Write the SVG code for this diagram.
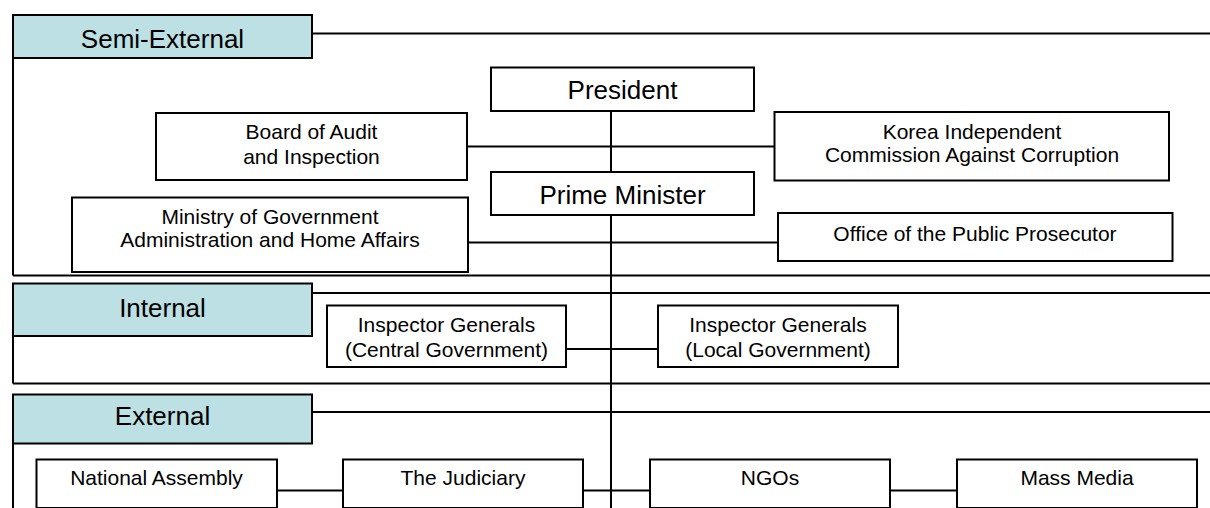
<svg xmlns="http://www.w3.org/2000/svg" width="1210" height="508" viewBox="0 0 1210 508">
<style>
.hdr{fill:#BCE0E3;stroke:#000;stroke-width:2}
.box{fill:#fff;stroke:#000;stroke-width:2}
.ln{stroke:#000;stroke-width:2;fill:none}
.big{font-family:"Liberation Sans",Arial,sans-serif;font-size:26px;fill:#000;text-anchor:middle}
.sm{font-family:"Liberation Sans",Arial,sans-serif;font-size:21px;fill:#000;text-anchor:middle}
</style>
<rect width="1210" height="508" fill="#fff"/>
<g id="sections">
<g id="semi-external">
<path class="ln" d="M312,33.5 H1210 M13,58 V275.5 M13,275.5 H1210"/>
<rect class="hdr" x="13" y="15" width="299" height="43"/>
<text class="big" x="162.5" y="47.5">Semi-External</text>
</g>
<g id="internal">
<path class="ln" d="M312,293 H1210 M13,336 V383.5 M13,383.5 H1210"/>
<rect class="hdr" x="13" y="283.5" width="299" height="52.5"/>
<text class="big" x="162.5" y="317">Internal</text>
</g>
<g id="external">
<path class="ln" d="M312,412 H1210 M13,443.5 V508"/>
<rect class="hdr" x="13" y="394.5" width="299" height="49"/>
<text class="big" x="162.5" y="425">External</text>
</g>
</g>
<g id="connectors">
<path class="ln" d="M611,111 V172 M611,215 V508"/>
<path class="ln" d="M467,146.5 H774.5"/>
<path class="ln" d="M468,242.5 H778"/>
<path class="ln" d="M566,349 H658"/>
<path class="ln" d="M277,490.5 H343 M583,490.5 H650 M890,490.5 H957"/>
</g>
<g id="president">
<rect class="box" x="491" y="67.5" width="263" height="43.5"/>
<text class="big" x="622.5" y="99">President</text>
</g>
<g id="prime-minister">
<rect class="box" x="491" y="172" width="263" height="43"/>
<text class="big" x="622.5" y="204">Prime Minister</text>
</g>
<g id="board-audit">
<rect class="box" x="156" y="113" width="311" height="67"/>
<text class="sm" x="311.5" y="139">Board of Audit</text>
<text class="sm" x="311.5" y="163.5">and Inspection</text>
</g>
<g id="kicac">
<rect class="box" x="774.5" y="112" width="394.5" height="68.5"/>
<text class="sm" x="972" y="138.5">Korea Independent</text>
<text class="sm" x="972" y="162">Commission Against Corruption</text>
</g>
<g id="ministry">
<rect class="box" x="72" y="197.5" width="396" height="74.5"/>
<text class="sm" x="270" y="223.5">Ministry of Government</text>
<text class="sm" x="270" y="247">Administration and Home Affairs</text>
</g>
<g id="prosecutor">
<rect class="box" x="778" y="213" width="394.5" height="48"/>
<text class="sm" x="975" y="241">Office of the Public Prosecutor</text>
</g>
<g id="ig-central">
<rect class="box" x="327" y="305.5" width="239" height="61.5"/>
<text class="sm" x="446.5" y="332">Inspector Generals</text>
<text class="sm" x="446.5" y="357">(Central Government)</text>
</g>
<g id="ig-local">
<rect class="box" x="658" y="305.5" width="240" height="61.5"/>
<text class="sm" x="778" y="332">Inspector Generals</text>
<text class="sm" x="778" y="357">(Local Government)</text>
</g>
<g id="national-assembly">
<rect class="box" x="36.5" y="459.5" width="240.5" height="48.5"/>
<text class="sm" x="156.5" y="485">National Assembly</text>
</g>
<g id="judiciary">
<rect class="box" x="343" y="459.5" width="240" height="48.5"/>
<text class="sm" x="463" y="485">The Judiciary</text>
</g>
<g id="ngos">
<rect class="box" x="650" y="459.5" width="240" height="48.5"/>
<text class="sm" x="770" y="485">NGOs</text>
</g>
<g id="mass-media">
<rect class="box" x="957" y="459.5" width="240" height="48.5"/>
<text class="sm" x="1077" y="485">Mass Media</text>
</g>
</svg>
